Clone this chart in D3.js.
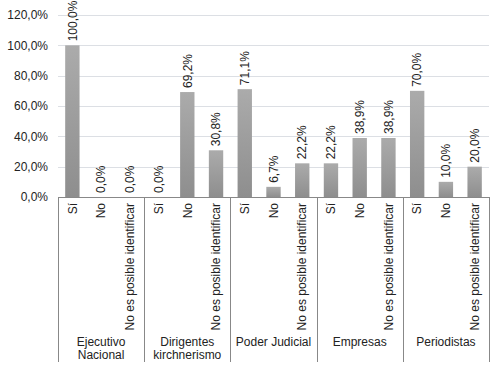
<!DOCTYPE html>
<meta charset="utf-8">
<head>
    <title>Menciones por actor</title>
</head>
<style>
    body { margin: 0; background: #fff; }
    text { font-family: "Liberation Sans", Arial, sans-serif; }
</style>
<script src="https://d3js.org/d3.v7.min.js"></script>
<body>
    <div id="chart"></div>
</body>
<script>

    // data
    var groups = ["Ejecutivo Nacional", "Dirigentes kirchnerismo", "Poder Judicial", "Empresas", "Periodistas"];
    var groupLines = [["Ejecutivo", "Nacional"], ["Dirigentes", "kirchnerismo"], ["Poder Judicial"], ["Empresas"], ["Periodistas"]];
    var answers = ["Sí", "No", "No es posible identificar"];
    var values = [
        [100.0, 0.0, 0.0],
        [0.0, 69.2, 30.8],
        [71.1, 6.7, 22.2],
        [22.2, 38.9, 38.9],
        [70.0, 10.0, 20.0]
    ];
    var yTicks = [0, 20, 40, 60, 80, 100, 120];

    var width = 504, height = 368;
    var plot = { left: 58, right: 489, top: 15, bottom: 197 };

    var svg = d3.select("#chart")
        .append("svg")
        .attr("width", width)
        .attr("height", height);

    // gradient for bars
    var grad = svg.append("defs").append("linearGradient")
        .attr("id", "bargrad")
        .attr("x1", 0).attr("y1", 0).attr("x2", 0).attr("y2", 1);
    grad.append("stop").attr("offset", "0%").attr("stop-color", "#ababab");
    grad.append("stop").attr("offset", "100%").attr("stop-color", "#8e8e8e");

    // flatten
    var rows = [];
    groups.forEach(function (g, i) {
        answers.forEach(function (a, j) {
            rows.push({ key: i + "-" + j, group: i, answer: a, value: values[i][j] });
        });
    });

    var x = d3.scaleBand()
        .domain(rows.map(function (d) { return d.key; }))
        .range([plot.left, plot.right])
        .paddingInner(0.5)
        .paddingOuter(0.25);

    var y = d3.scaleLinear()
        .domain([0, 120])
        .range([plot.bottom, plot.top]);

    var fmt = function (v) { return d3.format(".1f")(v).replace(".", ",") + "%"; };

    // gridlines
    svg.append("g")
        .selectAll("line")
        .data(yTicks.filter(function (t) { return t > 0; }))
        .join("line")
        .attr("x1", plot.left).attr("x2", plot.right)
        .attr("y1", function (d) { return Math.round(y(d)) + 0.5; })
        .attr("y2", function (d) { return Math.round(y(d)) + 0.5; })
        .attr("stroke", "#dcdfe4")
        .attr("stroke-width", 1);

    // y labels
    svg.append("g")
        .selectAll("text")
        .data(yTicks)
        .join("text")
        .attr("x", 48)
        .attr("y", function (d) { return y(d); })
        .attr("dy", "0.35em")
        .attr("text-anchor", "end")
        .attr("font-size", "12px")
        .attr("fill", "#222")
        .text(fmt);

    // bars
    svg.append("g")
        .selectAll("rect")
        .data(rows)
        .join("rect")
        .attr("x", function (d) { return x(d.key); })
        .attr("width", x.bandwidth())
        .attr("y", function (d) { return y(d.value); })
        .attr("height", function (d) { return plot.bottom - y(d.value); })
        .attr("fill", "url(#bargrad)");

    // value labels
    svg.append("g")
        .selectAll("text")
        .data(rows)
        .join("text")
        .attr("transform", function (d) {
            return "translate(" + (x(d.key) + x.bandwidth() / 2) + "," + (y(d.value) - 4) + ") rotate(-90)";
        })
        .attr("dy", "0.35em")
        .attr("text-anchor", "start")
        .attr("font-size", "12px")
        .attr("fill", "#222")
        .text(function (d) { return fmt(d.value); });

    // baseline
    svg.append("line")
        .attr("x1", plot.left).attr("x2", plot.right)
        .attr("y1", plot.bottom + 0.5).attr("y2", plot.bottom + 0.5)
        .attr("stroke", "#888");

    // group separators
    var groupW = (plot.right - plot.left) / groups.length;
    var seps = d3.range(groups.length + 1).map(function (i) { return plot.left + i * groupW; });
    svg.append("g")
        .selectAll("line")
        .data(seps)
        .join("line")
        .attr("x1", function (d) { return Math.round(d) + 0.5; })
        .attr("x2", function (d) { return Math.round(d) + 0.5; })
        .attr("y1", plot.bottom).attr("y2", 362)
        .attr("stroke", "#888");

    // category labels
    svg.append("g")
        .selectAll("text")
        .data(rows)
        .join("text")
        .attr("transform", function (d) {
            return "translate(" + (x(d.key) + x.bandwidth() / 2) + "," + (plot.bottom + 6) + ") rotate(-90)";
        })
        .attr("dy", "0.35em")
        .attr("text-anchor", "end")
        .attr("font-size", "12px")
        .attr("fill", "#222")
        .text(function (d) { return d.answer; });

    // group labels
    var gl = svg.append("g")
        .selectAll("text")
        .data(groupLines)
        .join("text")
        .attr("x", function (d, i) { return plot.left + (i + 0.5) * groupW; })
        .attr("y", 346)
        .attr("text-anchor", "middle")
        .attr("font-size", "12px")
        .attr("fill", "#222");
    gl.selectAll("tspan")
        .data(function (d) { return d; })
        .join("tspan")
        .attr("x", function () { return d3.select(this.parentNode).attr("x"); })
        .attr("dy", function (d, i) { return i === 0 ? 0 : "1.1em"; })
        .text(function (d) { return d; });

</script>
